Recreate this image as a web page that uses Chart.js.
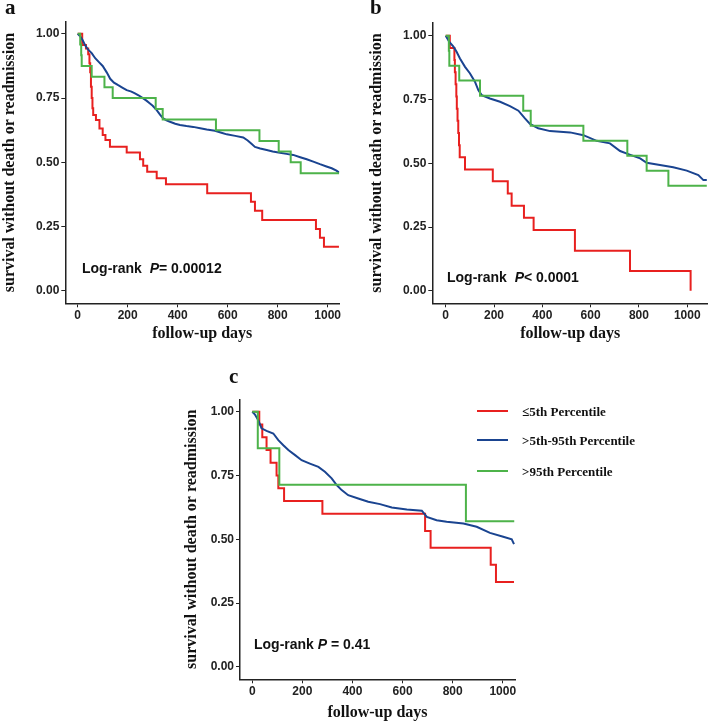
<!DOCTYPE html>
<html><head><meta charset="utf-8">
<script src="https://cdn.jsdelivr.net/npm/chart.js@4.4.0/dist/chart.umd.min.js"></script>
<style>
html,body{margin:0;padding:0;background:#fff;}
body{width:708px;height:724px;overflow:hidden;position:relative;}
canvas{position:absolute;}
.plab{position:absolute;font-family:"Liberation Serif",serif;font-weight:bold;font-size:21px;color:#111;line-height:1;}
.lr{position:absolute;font-family:"Liberation Sans",Arial,sans-serif;font-weight:bold;font-size:14px;color:#111;white-space:pre;line-height:1;transform:translateY(-50%);}
.lr i{font-style:italic;}
.leg{position:absolute;font-family:"Liberation Serif",serif;font-weight:bold;font-size:13px;color:#111;white-space:pre;line-height:1;transform:translateY(-50%);}
.legline{position:absolute;height:2px;width:31px;transform:translateY(-50%);}
</style>
</head><body>
<canvas id="ca" width="350" height="350" style="left:0;top:0;width:350px;height:350px"></canvas>
<canvas id="cb" width="348" height="350" style="left:360px;top:0;width:348px;height:350px"></canvas>
<canvas id="cc" width="345" height="364" style="left:175px;top:360px;width:345px;height:364px"></canvas>
<div class="plab" style="left:5px;top:-3px">a</div>
<div class="plab" style="left:370px;top:-3px">b</div>
<div class="plab" style="left:229px;top:366px">c</div>
<div class="lr" style="left:82px;top:268px">Log-rank  <i>P</i>= 0.00012</div>
<div class="lr" style="left:447px;top:277px">Log-rank  <i>P</i>&lt; 0.0001</div>
<div class="lr" style="left:254px;top:644px">Log-rank <i>P</i> = 0.41</div>
<div id="legend"></div>
<script>
// ---- shared axis ticks / labels ----
const xTicks = [0, 200, 400, 600, 800, 1000];
const yTicks = [0, 0.25, 0.5, 0.75, 1.0];
const yTickLabels = ["0.00", "0.25", "0.50", "0.75", "1.00"];
const seriesNames = ["\u22645th Percentile", ">5th-95th Percentile", ">95th Percentile"];
const seriesColors = ["#E8201F", "#1A4490", "#4DB34A"];
const xTitle = "follow-up days";
const yTitle = "survival without death or readmission";

// ---- panel a ----
const aRedDays = [0,18,33,42,47,50,53,56,59,62,73,87,100,111,129,196,249,262,278,316,353,518,693,709,738,953,969,985,1045];
const aRedSurv = [1,0.956,0.943,0.92,0.885,0.85,0.794,0.75,0.71,0.684,0.665,0.632,0.606,0.587,0.561,0.538,0.512,0.487,0.464,0.438,0.415,0.38,0.347,0.312,0.276,0.241,0.207,0.172,0.172];
const aBlueDays = [0,10,20,30,40,56,70,85,100,116,130,145,162,180,196,215,229,245,262,275,289,300,316,330,342,355,369,390,409,435,462,490,516,549,575,596,630,662,680,695,709,730,756,780,809,835,862,890,916,945,969,995,1016,1035,1046];
const aBlueSurv = [1,0.99,0.975,0.955,0.94,0.925,0.905,0.89,0.875,0.85,0.825,0.81,0.8,0.79,0.781,0.775,0.768,0.76,0.749,0.74,0.729,0.72,0.703,0.685,0.671,0.663,0.658,0.65,0.645,0.641,0.638,0.633,0.628,0.623,0.615,0.609,0.603,0.597,0.585,0.572,0.56,0.554,0.548,0.542,0.537,0.533,0.529,0.52,0.512,0.502,0.493,0.484,0.477,0.468,0.46];
const aGreenDays = [0,10,14,16,56,107,140,312,340,553,727,804,852,892,1046];
const aGreenSurv = [1,0.958,0.917,0.875,0.833,0.792,0.75,0.708,0.667,0.625,0.583,0.542,0.5,0.458,0.458];

// ---- panel b ----
const bRedDays = [0,17,36,38,41,44,46,49,52,55,58,80,195,257,273,324,364,535,763,1014];
const bRedSurv = [1,0.952,0.905,0.857,0.81,0.762,0.714,0.667,0.619,0.571,0.524,0.476,0.429,0.381,0.333,0.286,0.238,0.157,0.078,0];
const bBlueDays = [0,15,32,45,59,80,100,121,135,149,183,225,266,301,328,349,383,432,515,570,625,680,722,756,805,832,887,942,998,1046,1067,1081];
const bBlueSurv = [1,0.976,0.957,0.937,0.911,0.878,0.853,0.82,0.787,0.767,0.754,0.741,0.724,0.706,0.676,0.654,0.637,0.626,0.621,0.61,0.588,0.578,0.548,0.536,0.519,0.502,0.493,0.484,0.471,0.454,0.434,0.434];
const bGreenDays = [0,13,15,56,142,321,352,570,752,832,922,1081];
const bGreenSurv = [1,0.941,0.882,0.824,0.765,0.706,0.647,0.588,0.529,0.471,0.412,0.412];

// ---- panel c ----
const cRedDays = [0,28,40,57,73,97,104,127,280,690,712,952,973,1045];
const cRedSurv = [1,0.95,0.9,0.85,0.8,0.75,0.7,0.65,0.6,0.533,0.467,0.4,0.333,0.333];
const cBlueDays = [0,10,24,37,57,84,104,124,144,171,197,230,264,290,317,337,357,383,423,463,510,557,617,677,697,736,776,843,896,949,1002,1036,1045];
const cBlueSurv = [1,0.99,0.967,0.935,0.925,0.915,0.889,0.869,0.85,0.83,0.81,0.797,0.784,0.765,0.739,0.713,0.693,0.673,0.66,0.647,0.638,0.625,0.617,0.612,0.588,0.575,0.569,0.562,0.549,0.525,0.51,0.5,0.481];
const cGreenDays = [0,22,108,853,1046];
const cGreenSurv = [1,0.857,0.714,0.571,0.571];

function ds(days, surv, idx) {
  return {
    label: seriesNames[idx],
    data: days.map((d, i) => ({x: d, y: surv[i]})),
    borderColor: seriesColors[idx],
    borderWidth: 2,
    pointRadius: 0,
    // the large middle group has many tiny steps: draw it as a fine polyline
    stepped: idx === 1 ? false : true,
    tension: 0,
    fill: false,
    order: 3 - idx
  };
}

function panel(id, cw, ch, area, xr, yr, series, yTitleX, xTitleY) {
  const tickFont = {family: "'Liberation Sans', Arial, sans-serif", weight: 'bold', size: 12};
  const titleFont = {family: "'Liberation Serif', 'Times New Roman', serif", weight: 'bold', size: 16, lineHeight: 1.2};
  return new Chart(document.getElementById(id), {
    type: 'line',
    data: {datasets: series},
    options: {
      responsive: false, animation: false, devicePixelRatio: 1,
      layout: {autoPadding: false, padding: {left: 0, top: area.t, right: cw - area.r, bottom: 0}},
      plugins: {legend: {display: false}, tooltip: {enabled: false}},
      scales: {
        x: {
          type: 'linear', min: xr[0], max: xr[1],
          afterFit: s => { s.height = ch - area.b; },
          afterBuildTicks: s => { s.ticks = xTicks.map(v => ({value: v})); },
          grid: {display: true, drawOnChartArea: false, drawTicks: true, tickLength: 4, color: '#222', tickColor: '#222', lineWidth: 1},
          border: {display: true, color: '#222', width: 1.5},
          ticks: {padding: 1, color: '#222', font: tickFont, maxRotation: 0, autoSkip: false, callback: v => String(v)},
          title: {display: true, text: xTitle, color: '#111', font: titleFont, padding: {top: 0, bottom: ch - xTitleY - 9.6}}
        },
        y: {
          type: 'linear', min: yr[0], max: yr[1],
          afterFit: s => { s.width = area.l; },
          afterBuildTicks: s => { s.ticks = yTicks.map(v => ({value: v})); },
          grid: {display: true, drawOnChartArea: false, drawTicks: true, tickLength: 4, color: '#222', tickColor: '#222', lineWidth: 1},
          border: {display: true, color: '#222', width: 1.5},
          ticks: {padding: 2, color: '#222', font: tickFont, autoSkip: false, callback: v => yTickLabels[yTicks.indexOf(v)]},
          title: {display: true, text: yTitle, color: '#111', font: titleFont, padding: {top: yTitleX - 9.6, bottom: 0}}
        }
      }
    }
  });
}

panel('ca', 350, 350, {l: 65.3, t: 21.7, r: 339.3, b: 303.3}, [-49.6, 1046.4], [-0.048, 1.047],
  [ds(aRedDays, aRedSurv, 0), ds(aBlueDays, aBlueSurv, 1), ds(aGreenDays, aGreenSurv, 2)], 10, 334);
panel('cb', 348, 350, {l: 72.3, t: 22.7, r: 348, b: 303.3}, [-55.5, 1086], [-0.049, 1.051],
  [ds(bRedDays, bRedSurv, 0), ds(bBlueDays, bBlueSurv, 1), ds(bGreenDays, bGreenSurv, 2)], 16.7, 334);
panel('cc', 345, 364, {l: 65, t: 39.3, r: 340, b: 319.3}, [-49, 1049], [-0.049, 1.049],
  [ds(cRedDays, cRedSurv, 0), ds(cBlueDays, cBlueSurv, 1), ds(cGreenDays, cGreenSurv, 2)], 17, 353.3);

// legend for panel c
const legY = [411, 440, 470.7];
const leg = document.getElementById('legend');
seriesNames.forEach((n, i) => {
  const l = document.createElement('div');
  l.className = 'legline';
  l.style.left = '477px'; l.style.top = legY[i] + 'px'; l.style.background = seriesColors[i];
  leg.appendChild(l);
  const t = document.createElement('div');
  t.className = 'leg';
  t.style.left = '522px'; t.style.top = legY[i] + 'px';
  t.textContent = n;
  leg.appendChild(t);
});
</script>
</body></html>
